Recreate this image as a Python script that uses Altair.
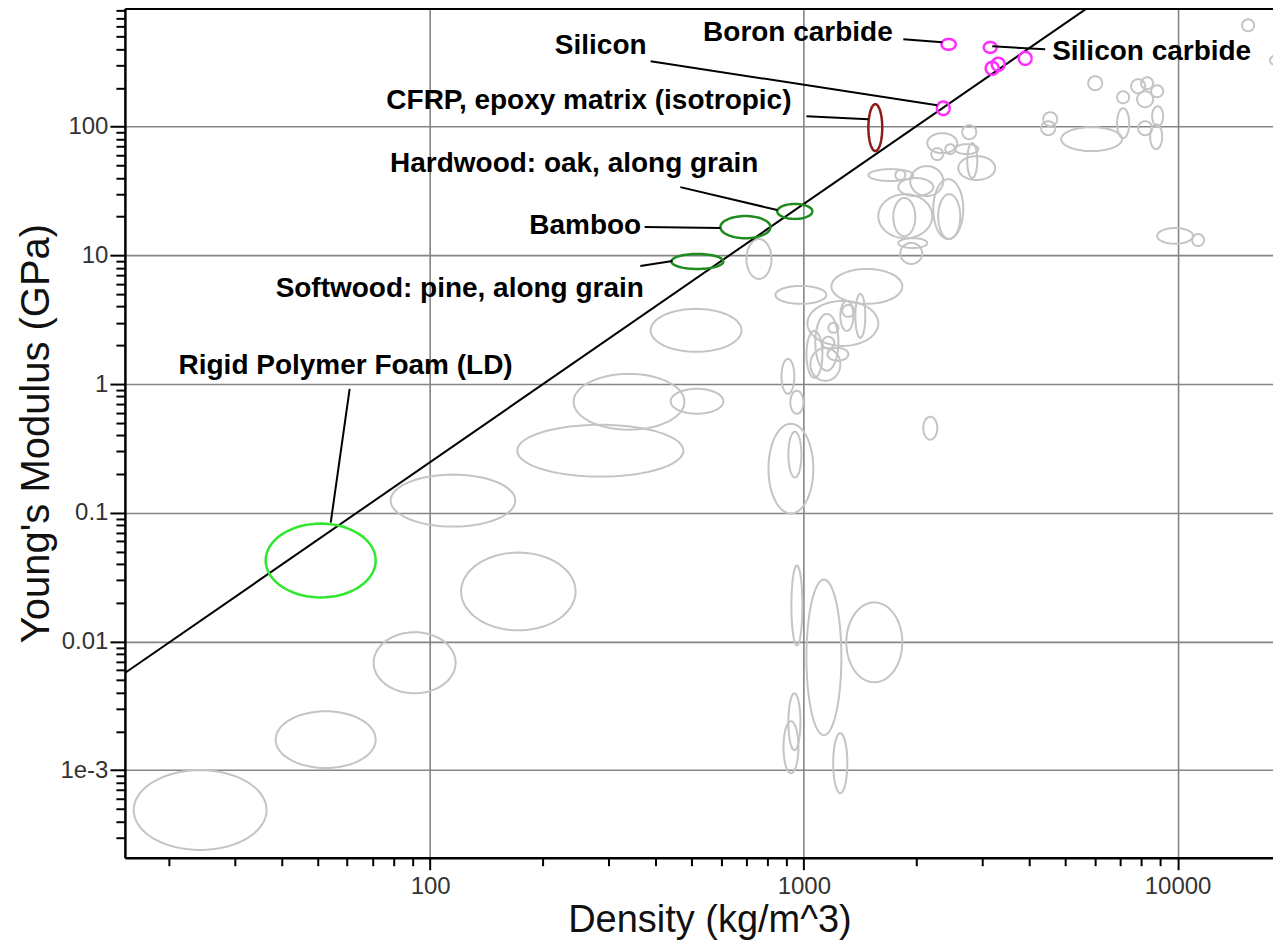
import altair as alt
import pandas as pd

# ---------------- data ----------------
# grey material envelopes: density range (kg/m^3) and Young's modulus range (GPa)
gray_rho_lo = [16.1, 38.6, 70.6, 121, 78.4, 171, 242, 440, 389, 702, 839, 1185,
               1022, 1016, 1373, 1267, 1252, 1163, 1121, 1073, 1041, 1156,
               871, 920, 804, 909, 2087, 926, 1016, 1299, 909, 882, 1198,
               2139, 2653, 2541, 2192, 2390, 2736, 2589, 1488, 1757, 1789, 1926,
               1582, 1735, 2219, 2288, 1789, 1811,
               4369, 4315, 4881, 6889, 5765, 6889, 7512, 7989, 8495, 7793, 7842,
               8547, 8443, 8815, 10940, 14880, 17670]
gray_rho_hi = [36.5, 71.5, 117, 245, 169, 476, 479, 609, 681, 819, 1149, 1834,
               1582, 1121, 1460, 1365, 1356, 1237, 1206, 1237, 1252, 1315,
               943, 997, 1060, 985, 2275, 991, 1260, 1834, 979, 967, 1307,
               2573, 2893, 2929, 2360, 2541, 2910, 3251, 1962, 1868, 2219, 2360,
               2206, 1987, 2670, 2621, 2139, 2074,
               4762, 4704, 7104, 7420, 6284, 7420, 8188, 8600, 9147, 8600, 8547,
               9147, 9092, 11000, 11770, 16020, 19990]
gray_E_lo = [0.00024, 0.00104, 0.00396, 0.0122, 0.0781, 0.191, 0.442, 0.588, 1.78, 6.56, 4.20, 4.20,
             1.98, 1.12, 2.29, 3.33, 2.59, 2.50, 1.88, 1.27, 1.06, 1.52,
             0.841, 0.588, 0.0986, 0.188, 0.370, 0.00933, 0.00187, 0.00482, 0.00143, 0.000948, 0.000663,
             62.3, 80.0, 61.2, 55.0, 61.2, 39.9, 38.5, 37.8, 38.5, 28.9, 28.9,
             13.6, 14.1, 13.4, 13.4, 11.4, 8.58,
             100.9, 85.9, 64.6, 81.4, 191.9, 152.1, 181.9, 195.4, 169.4, 141.7, 85.9,
             100.9, 66.9, 12.3, 11.8, 550.8, 294.7]
gray_E_hi = [0.0010, 0.00287, 0.0118, 0.0491, 0.198, 0.483, 1.20, 0.919, 3.84, 13.4, 5.79, 7.84,
             4.43, 2.59, 5.02, 4.12, 4.43, 2.99, 2.33, 3.51, 1.91, 1.91,
             1.57, 0.887, 0.492, 0.427, 0.558, 0.0389, 0.0303, 0.0201, 0.00396, 0.00240, 0.00194,
             89.0, 102.7, 73.1, 68.1, 73.1, 74.5, 59.0, 46.8, 46.0, 39.9, 49.4,
             29.9, 27.9, 39.1, 29.9, 13.6, 12.5,
             129.6, 110.3, 99.1, 139.2, 246.5, 188.5, 233.7, 242.0, 209.9, 188.5, 110.3,
             144.2, 104.6, 16.3, 14.66, 682.0, 365.0]

# highlighted materials
hl_name = ["Rigid Polymer Foam (LD)", "Softwood: pine, along grain", "Bamboo",
           "Hardwood: oak, along grain", "CFRP, epoxy matrix (isotropic)", "Silicon",
           "Boron carbide", "Silicon carbide 1", "Silicon carbide 2",
           "Silicon carbide 3", "Silicon carbide 4"]
hl_group = ["foam", "wood", "wood", "wood", "cfrp", "ceramic", "ceramic",
            "ceramic", "ceramic", "ceramic", "ceramic"]
hl_rho_lo = [36.3, 442, 598, 849, 1488, 2270, 2335, 3030, 3066, 3182, 3760]
hl_rho_hi = [71.5, 609, 814, 1054, 1621, 2455, 2550, 3280, 3322, 3447, 4068]
hl_E_lo = [0.0220, 7.84, 13.6, 19.2, 64.6, 123.0, 396, 375, 253, 272, 302]
hl_E_hi = [0.0824, 10.25, 20.2, 25.1, 149.4, 157.0, 480, 455, 319, 343, 381]
group_names = ["foam", "wood", "cfrp", "ceramic"]
group_colors = ["#2ee82e", "#1e8c1e", "#8b1c1c", "#ff2bff"]

# guide line (E^(1/2)/rho = const)
guide_rho = [15.25, 5717]
guide_E = [0.00569, 830]

# annotations
ann_text = ["Boron carbide", "Silicon carbide", "Silicon",
            "CFRP, epoxy matrix (isotropic)", "Hardwood: oak, along grain",
            "Bamboo", "Softwood: pine, along grain", "Rigid Polymer Foam (LD)"]
ann_rho = [964, 8522, 286, 266, 243, 260, 120, 59.4]
ann_E = [531, 378, 421, 157.6, 51.2, 16.9, 5.49, 1.387]
lead_rho0 = [1845, 4423, 389, 1016, 467, 375, 365, 60.9]
lead_E0 = [477, 399, 322, 120.6, 33.9, 16.6, 8.28, 0.919]
lead_rho1 = [2346, 3192, 2275, 1488, 849, 598, 445, 54.2]
lead_E1 = [452, 421, 146.8, 114.3, 22.5, 16.3, 9.05, 0.0839]

# axes
x_domain = [15.25, 18000]
y_domain = [0.000209, 830]
x_major = [100, 1000, 10000]
y_major = [0.001, 0.01, 0.1, 1, 10, 100]
x_minor = [v for v in [float(f"{m}e{d}") for d in range(1, 5) for m in range(2, 10)]
           if x_domain[0] <= v <= x_domain[1]]
y_minor = [v for v in [float(f"{m}e{d}") for d in range(-4, 3) for m in range(2, 10)]
           if y_domain[0] <= v <= y_domain[1]]

# ---------------- tables ----------------
gray_df = pd.DataFrame({"r0": gray_rho_lo, "r1": gray_rho_hi, "e0": gray_E_lo, "e1": gray_E_hi})
gray_df["id"] = range(len(gray_df))
hl_df = pd.DataFrame({"name": hl_name, "grp": hl_group, "r0": hl_rho_lo, "r1": hl_rho_hi,
                      "e0": hl_E_lo, "e1": hl_E_hi})
guide_df = pd.DataFrame({"rho": guide_rho, "E": guide_E})
ann_df = pd.DataFrame({"text": ann_text, "rho": ann_rho, "E": ann_E})
lead_df = pd.DataFrame({"r0": lead_rho0, "e0": lead_E0, "r1": lead_rho1, "e1": lead_E1})

FONT = "Liberation Sans"
xs = alt.Scale(type="log", domain=x_domain, nice=False)
ys = alt.Scale(type="log", domain=y_domain, nice=False)


def outline(chart):
    return chart.transform_calculate(
        k="sequence(0, 73)"
    ).transform_flatten(["k"]).transform_calculate(
        px="sqrt(datum.r0*datum.r1)*pow(datum.r1/datum.r0, 0.5*cos(datum.k*PI/36))",
        py="sqrt(datum.e0*datum.e1)*pow(datum.e1/datum.e0, 0.5*sin(datum.k*PI/36))",
    )


main_x_axis = alt.Axis(
    orient="bottom", values=x_major, labelExpr="toString(datum.value)",
    tickSize=12, tickWidth=2, tickColor="black",
    domainColor="black", domainWidth=2.5,
    grid=True, gridColor="#858585", gridWidth=1.6,
    labelFont=FONT, labelFontSize=24, labelColor="#333333", labelPadding=5,
    labelOverlap=False, labelFlush=False,
    title="Density (kg/m^3)", titleFont=FONT, titleFontSize=38,
    titleFontWeight="normal", titleColor="#111111", titlePadding=3, titleX=585,
)
main_y_axis = alt.Axis(
    orient="left", values=y_major,
    labelExpr="datum.value < 0.005 ? '1e-3' : toString(datum.value)",
    tickSize=15, tickWidth=2, tickColor="black",
    domainColor="black", domainWidth=2.5,
    grid=True, gridColor="#858585", gridWidth=1.6,
    labelFont=FONT, labelFontSize=24, labelColor="#333333", labelPadding=2,
    labelOverlap=False, labelFlush=False,
    title="Young's Modulus (GPa)", titleFont=FONT, titleFontSize=40,
    titleFontWeight="normal", titleColor="#111111", titlePadding=3,
)
minor_x_axis = alt.Axis(orient="bottom", values=x_minor, tickSize=8, tickWidth=2,
                        tickColor="black", labels=False, domain=False, grid=False, title=None)
minor_y_axis = alt.Axis(orient="left", values=y_minor, tickSize=9, tickWidth=2,
                        tickColor="black", labels=False, domain=False, grid=False, title=None)
top_axis = alt.Axis(orient="top", ticks=False, labels=False, grid=False, domain=True,
                    domainColor="black", domainWidth=2.5, title=None)

gray_layer = outline(alt.Chart(gray_df)).mark_line(
    clip=True, strokeWidth=2, color="#c4c4c4"
).encode(
    x=alt.X("px:Q", scale=xs, axis=main_x_axis),
    y=alt.Y("py:Q", scale=ys, axis=main_y_axis),
    detail="id:N",
    order="k:Q",
)

guide_layer = alt.Chart(guide_df).mark_line(clip=True, color="black", strokeWidth=2).encode(
    x=alt.X("rho:Q", scale=xs, axis=minor_x_axis),
    y=alt.Y("E:Q", scale=ys, axis=minor_y_axis),
)

hl_layer = outline(alt.Chart(hl_df)).mark_line(clip=True, strokeWidth=2.5).encode(
    x=alt.X("px:Q", scale=xs, axis=top_axis),
    y=alt.Y("py:Q", scale=ys, axis=None),
    detail="name:N",
    order="k:Q",
    color=alt.Color("grp:N", scale=alt.Scale(domain=group_names, range=group_colors), legend=None),
)

lead_layer = alt.Chart(lead_df).mark_rule(color="black", strokeWidth=2).encode(
    x=alt.X("r0:Q", scale=xs, axis=None),
    y=alt.Y("e0:Q", scale=ys, axis=None),
    x2="r1:Q",
    y2="e1:Q",
)

text_layer = alt.Chart(ann_df).mark_text(
    font=FONT, fontSize=28, fontWeight="bold", color="black", align="center", baseline="middle"
).encode(
    x=alt.X("rho:Q", scale=xs, axis=None),
    y=alt.Y("E:Q", scale=ys, axis=None),
    text="text:N",
)

chart = alt.layer(
    gray_layer, guide_layer, hl_layer, lead_layer, text_layer
).resolve_axis(
    x="independent", y="independent"
).properties(
    width=1149, height=850,
    padding={"left": 8, "right": 0, "top": 0, "bottom": 0},
).configure_view(stroke=None).configure(background="white")

chart.save("out.html", embed_options={"renderer": "svg", "actions": False})
